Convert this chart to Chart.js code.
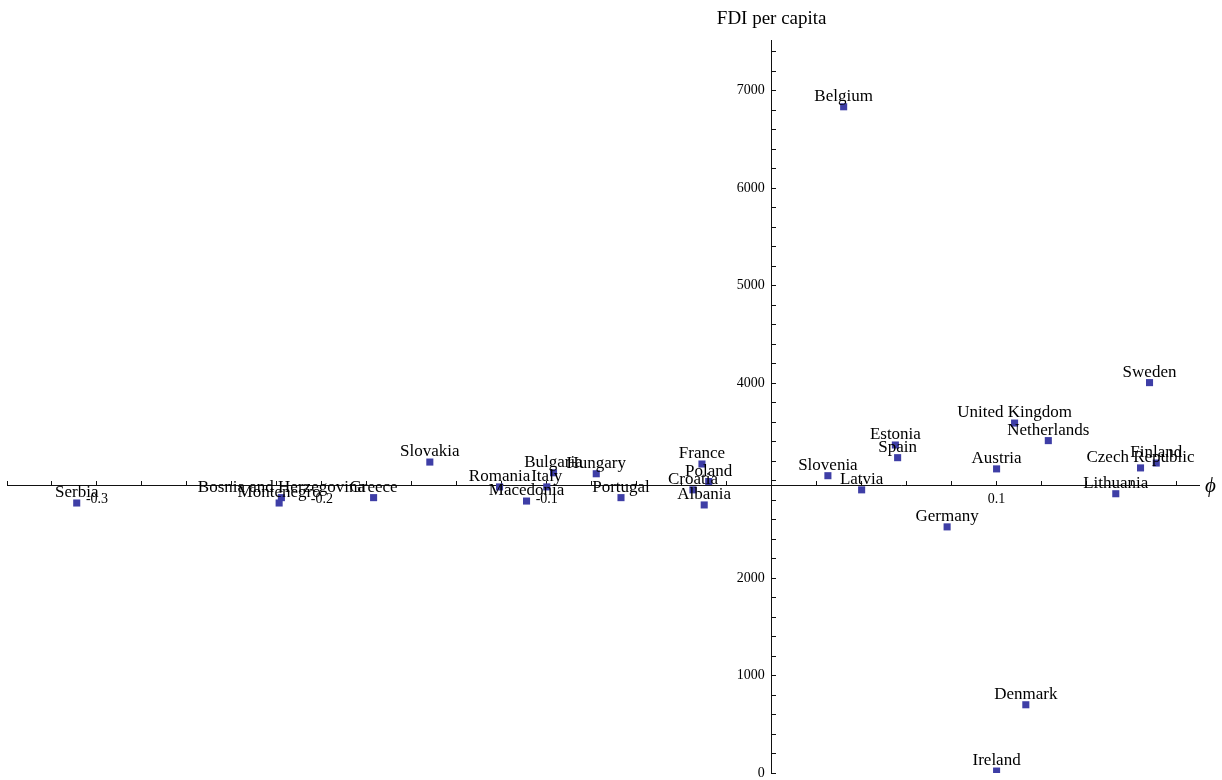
<!DOCTYPE html>
<html>
<head>
<meta charset="utf-8">
<script src="https://cdn.jsdelivr.net/npm/chart.js@4"></script>
<style>
  html, body { margin: 0; padding: 0; background: #fff; }
  #wrap { width: 1222px; height: 780px; }
</style>
</head>
<body>
<div id="wrap"><canvas id="plotChart" width="1222" height="780"></canvas></div>
<script>
// Countries with their phi value and FDI per capita
const countries = [
  "Serbia", "Bosnia and Herzegovina", "Montenegro", "Greece", "Slovakia",
  "Romania", "Macedonia", "Italy", "Bulgaria", "Hungary",
  "Portugal", "France", "Poland", "Croatia", "Albania",
  "Belgium", "Slovenia", "Latvia", "Estonia", "Spain",
  "Austria", "Netherlands", "United Kingdom", "Sweden", "Czech Republic",
  "Finland", "Lithuania", "Germany", "Denmark", "Ireland"
];
const phi = [
  -0.309, -0.218, -0.219, -0.177, -0.152,
  -0.121, -0.109, -0.100, -0.097, -0.078,
  -0.067, -0.031, -0.028, -0.035, -0.030,
  0.032, 0.025, 0.040, 0.055, 0.056,
  0.100, 0.123, 0.108, 0.168, 0.164,
  0.171, 0.153, 0.078, 0.113, 0.100
];
const fdi = [
  2770, 2825, 2770, 2825, 3190,
  2935, 2790, 2935, 3080, 3070,
  2825, 3170, 2990, 2905, 2750,
  6835, 3050, 2905, 3365, 3235,
  3120, 3410, 3590, 4005, 3130,
  3180, 2865, 2525, 700, 20
];

// Axis tick labels
const xTickLabels = [-0.3, -0.2, -0.1, 0.1];
const yTickLabels = [0, 1000, 2000, 4000, 5000, 6000, 7000];
const xAxisTitle = "\u03D5";
const yAxisTitle = "FDI per capita";

const serif = "'Liberation Serif', 'Times New Roman', serif";
const pointColor = "rgb(62, 62, 166)";

// Text above each point
const pointLabels = {
  id: "pointLabels",
  afterDatasetsDraw(chart) {
    const ctx = chart.ctx;
    const meta = chart.getDatasetMeta(0);
    ctx.save();
    ctx.font = "17px " + serif;
    ctx.fillStyle = "#000";
    ctx.textAlign = "center";
    ctx.textBaseline = "alphabetic";
    meta.data.forEach((el, i) => {
      ctx.fillText(countries[i], el.x, el.y - 6);
    });
    ctx.restore();
  }
};

// Axis names at the ends of the crossing axes
const axisTitles = {
  id: "axisTitles",
  afterDraw(chart) {
    const ctx = chart.ctx;
    const xs = chart.scales.x;
    const ys = chart.scales.y;
    ctx.save();
    ctx.fillStyle = "#000";
    ctx.textBaseline = "alphabetic";
    ctx.textAlign = "center";
    ctx.font = "19px " + serif;
    ctx.fillText(yAxisTitle, xs.getPixelForValue(0), 24);
    ctx.textAlign = "left";
    ctx.textBaseline = "middle";
    ctx.font = "italic 21px " + serif;
    ctx.fillText(xAxisTitle, chart.chartArea.right + 6, ys.getPixelForValue(2950) + 1);
    ctx.restore();
  }
};

const near = (v, list) => list.find((t) => Math.abs(t - v) < 1e-6);

new Chart(document.getElementById("plotChart").getContext("2d"), {
  type: "scatter",
  data: {
    datasets: [
      {
        label: "FDI per capita",
        data: phi.map((p, i) => ({ x: p, y: fdi[i] })),
        pointStyle: "rect",
        pointRadius: 5,
        pointHoverRadius: 5,
        backgroundColor: pointColor,
        borderColor: pointColor,
        borderWidth: 0,
      },
    ],
  },
  options: {
    responsive: false,
    animation: false,
    events: [],
    layout: {
      padding: { left: 7, right: 23, top: 40, bottom: 7 },
    },
    plugins: {
      legend: { display: false },
      tooltip: { enabled: false },
    },
    scales: {
      x: {
        type: "linear",
        min: -0.34,
        max: 0.19,
        position: { y: 2950 },
        afterFit: (scale) => {
          scale.height = 0;
          scale.paddingLeft = 0;
          scale.paddingRight = 0;
          scale.paddingTop = 0;
          scale.paddingBottom = 0;
        },
        border: { display: true, color: "#111", width: 1 },
        grid: {
          drawOnChartArea: false,
          drawTicks: true,
          tickLength: -5,
          tickColor: "#111",
        },
        ticks: {
          stepSize: 0.02,
          includeBounds: false,
          autoSkip: false,
          maxRotation: 0,
          padding: 10,
          color: "#000",
          font: { family: serif, size: 14 },
          callback: function (value) {
            const t = near(value, xTickLabels);
            return t === undefined ? "" : String(t);
          },
        },
      },
      y: {
        type: "linear",
        min: 0,
        max: 7520,
        position: { x: 0 },
        afterFit: (scale) => {
          scale.width = 0;
          scale.paddingLeft = 0;
          scale.paddingRight = 0;
          scale.paddingTop = 0;
          scale.paddingBottom = 0;
        },
        border: { display: true, color: "#111", width: 1 },
        grid: {
          drawOnChartArea: false,
          drawTicks: true,
          tickLength: -5,
          tickColor: "#111",
        },
        ticks: {
          stepSize: 200,
          includeBounds: false,
          autoSkip: false,
          padding: 12,
          color: "#000",
          font: { family: serif, size: 14 },
          callback: function (value) {
            const t = near(value, yTickLabels);
            // trailing spaces keep the label clear of the axis line
            return t === undefined ? "" : String(t) + "  ";
          },
        },
      },
    },
  },
  plugins: [pointLabels, axisTitles],
});
</script>
</body>
</html>
